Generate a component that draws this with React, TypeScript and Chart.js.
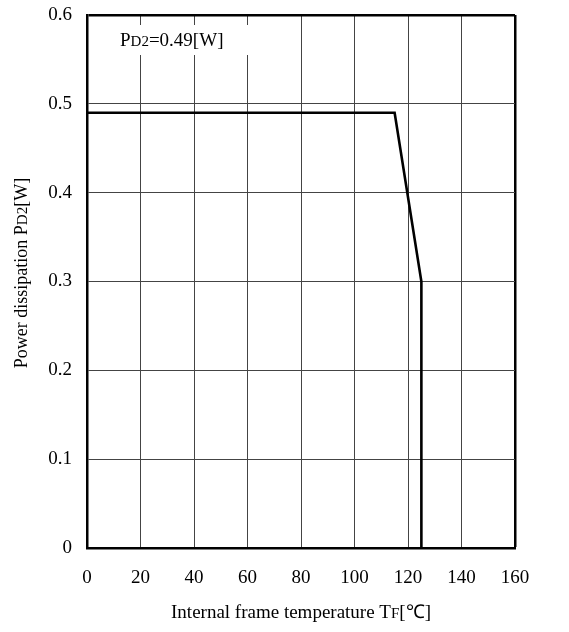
import React, { useEffect, useRef } from "react";
import { Chart, registerables } from "chart.js";

Chart.register(...registerables);

const tempValues = [0, 115, 125, 125];
const powerValues = [0.49, 0.49, 0.3, 0];
const xTicks = [0, 20, 40, 60, 80, 100, 120, 140, 160];
const yTicks = [0, 0.1, 0.2, 0.3, 0.4, 0.5, 0.6];
// title pieces: [normal, small, normal]
const xTitleParts = ["Internal frame temperature T", "F", "[℃]"];
const yTitleParts = ["Power dissipation P", "D2", "[W]"];
const noteParts = ["P", "D2", "=0.49[W]"];

const FONT = "'Liberation Serif', 'Times New Roman', serif";

function drawParts(ctx: any, parts: string[], big: number, small: number, cx: number, cy: number) {
  const fBig = `${big}px ${FONT}`;
  const fSmall = `${small}px ${FONT}`;
  const widths = parts.map((p, i) => {
    ctx.font = i === 1 ? fSmall : fBig;
    return ctx.measureText(p).width;
  });
  const total = widths.reduce((a, b) => a + b, 0);
  let x = cx - total / 2;
  ctx.textBaseline = "alphabetic";
  ctx.textAlign = "left";
  parts.forEach((p, i) => {
    ctx.font = i === 1 ? fSmall : fBig;
    ctx.fillText(p, x, cy + big * 0.33);
    x += widths[i];
  });
}

const decorPlugin = {
  id: "decor",
  afterDatasetsDraw(chart: any) {
    const { ctx, chartArea } = chart;
    ctx.save();
    ctx.fillStyle = "#fff";
    ctx.fillRect(chartArea.left + 20, chartArea.top + 10, 150, 30);
    ctx.fillStyle = "#000";
    ctx.textBaseline = "alphabetic";
    ctx.textAlign = "left";
    let x = chartArea.left + 33;
    const y = chartArea.top + 31;
    noteParts.forEach((p, i) => {
      ctx.font = i === 1 ? `15px ${FONT}` : `19px ${FONT}`;
      ctx.fillText(p, x, y);
      x += ctx.measureText(p).width;
    });
    drawParts(ctx, xTitleParts, 19, 15, (chartArea.left + chartArea.right) / 2, 612);
    ctx.save();
    ctx.translate(21, 273);
    ctx.rotate(-Math.PI / 2);
    drawParts(ctx, yTitleParts, 18, 15, 0, 0);
    ctx.restore();
    ctx.restore();
  },
};

export default function App() {
  const ref = useRef<HTMLCanvasElement | null>(null);
  useEffect(() => {
    document.body.style.margin = "0";
    if (!ref.current) return;
    const points = tempValues.map((t, i) => ({ x: t, y: powerValues[i] }));
    const chart = new Chart(ref.current, {
      type: "line",
      data: {
        datasets: [
          {
            data: points,
            borderColor: "#000",
            borderWidth: 2.6,
            pointRadius: 0,
            fill: false,
            tension: 0,
          },
        ],
      },
      options: {
        responsive: false,
        animation: false,
        layout: { padding: { left: 0, top: 15, right: 54, bottom: 0 } },
        plugins: { legend: { display: false }, tooltip: { enabled: false } },
        scales: {
          x: {
            type: "linear",
            min: 0,
            max: 160,
            afterBuildTicks: (s: any) => {
              s.ticks = xTicks.map((v) => ({ value: v }));
            },
            afterFit: (s: any) => {
              s.height = 632 - 548;
              s.paddingLeft = 0;
              s.paddingRight = 0;
            },
            ticks: {
              color: "#000",
              font: { family: FONT, size: 19 },
              padding: 19,
              maxRotation: 0,
              callback: (v: any) => String(v),
            },
            grid: {
              drawTicks: false,
              color: (c: any) => (c.tick && c.tick.value === 160 ? "#000" : "#444"),
              lineWidth: (c: any) => (c.tick && c.tick.value === 160 ? 2.5 : 1),
            },
            border: { color: "#000", width: 2.5 },
            title: { display: false },
          },
          y: {
            type: "linear",
            min: 0,
            max: 0.6,
            afterBuildTicks: (s: any) => {
              s.ticks = yTicks.map((v) => ({ value: v }));
            },
            afterFit: (s: any) => {
              s.width = 87;
              s.paddingTop = 0;
              s.paddingBottom = 0;
            },
            ticks: {
              color: "#000",
              font: { family: FONT, size: 19 },
              padding: 15,
              callback: (v: any) => (Number(v) === 0 ? "0" : Number(v).toFixed(1)),
            },
            grid: {
              drawTicks: false,
              color: (c: any) => (c.tick && Math.abs(c.tick.value - 0.6) < 1e-6 ? "#000" : "#444"),
              lineWidth: (c: any) => (c.tick && Math.abs(c.tick.value - 0.6) < 1e-6 ? 2.5 : 1),
            },
            border: { color: "#000", width: 2.5 },
            title: { display: false },
          },
        },
      },
      plugins: [decorPlugin],
    } as any);
    return () => chart.destroy();
  }, []);
  return (
    <div style={{ width: 569, height: 632 }}>
      <canvas ref={ref} width={569} height={632} style={{ display: "block" }} />
    </div>
  );
}
